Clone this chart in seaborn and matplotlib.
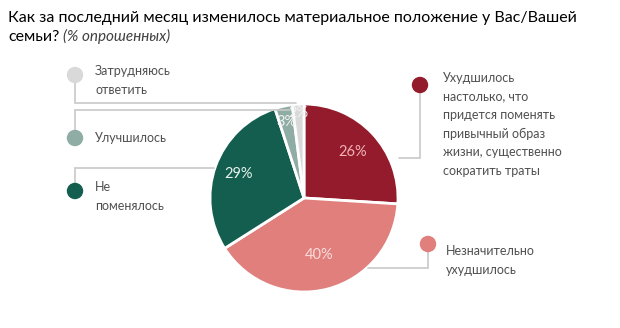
import matplotlib
matplotlib.use("Agg")
import matplotlib.pyplot as plt
import numpy as np
import seaborn as sns

sns.set_theme(style="white")
plt.rcParams["font.family"] = ["Lato", "DejaVu Sans"]

# Survey answers, clockwise from 12 o'clock
categories = [
    "Ухудшилось\nнастолько, что\nпридется поменять\nпривычный образ\nжизни, существенно\nсократить траты",
    "Незначительно\nухудшилось",
    "Не\nпоменялось",
    "Улучшилось",
    "Затрудняюсь\nответить",
]
values = [26, 40, 29, 3, 2]
pct_labels = ["26%", "40%", "29%", "3%", "2%"]

colors = ["#931b2c", "#e07f7c", "#145e50", "#8fada4", "#d9d9d9"]
pct_colors = ["#f4b3b5", "#f9dcda", "#e8f1ee", "#f2f2f2", "#f2f2f2"]
pct_dist = [0.71, 0.63, 0.74, 0.83, 0.91]

W, H = 620, 328
fig = plt.figure(figsize=(W / 100, H / 100), dpi=100)
ax = fig.add_axes([0, 0, 1, 1])


def Y(y):
    return H - y


cx, cy, R = 304, 198, 94
wedges, _ = ax.pie(
    values, colors=colors, startangle=90, counterclock=False,
    center=(cx, Y(cy)), radius=R,
    wedgeprops=dict(edgecolor="white", linewidth=2),
)
ax.set_xlim(0, W)
ax.set_ylim(0, H)
ax.set_aspect("equal")
ax.axis("off")

for w, lab, c, d in zip(wedges, pct_labels, pct_colors, pct_dist):
    ang = np.deg2rad((w.theta1 + w.theta2) / 2)
    ax.text(cx + d * R * np.cos(ang), Y(cy) + d * R * np.sin(ang), lab,
            ha="center", va="center", color=c, fontsize=10.5, zorder=5)

# Title
ax.text(8, Y(22), "Как за последний месяц изменилось материальное положение у Вас/Вашей",
        fontsize=11.5, color="#000000", va="baseline", ha="left")
ax.text(8, Y(41), "семьи?", fontsize=11.5, color="#000000", va="baseline", ha="left")
ax.text(63, Y(41), "(% опрошенных)", fontsize=11, color="#404040",
        style="italic", va="baseline", ha="left")

line_c = "#c8c8c8"
lw = 1.2

# Legend markers, leader lines and captions
# (dot x, dot y, elbow y, line end x, text x, text y)
legend_layout = [
    (420, 85, 158, 399, 443, 72),
    (428, 244, 268, 368, 446, 245),
    (75, 191, 168, 214, 95, 181),
    (75, 138, 110, 290, 95, 138),
    (75, 75, 103, 296, 95, 65),
]
for (dx, dy, ey, ex, tx, ty), lab, c in zip(legend_layout, categories, colors):
    ax.plot([dx, dx, ex], [Y(dy), Y(ey), Y(ey)], color=line_c, lw=lw, zorder=1,
            solid_joinstyle="miter")
    ax.add_patch(plt.Circle((dx, Y(dy)), 7.5, color=c, zorder=3))
    n = lab.count("\n") + 1
    ax.text(tx, Y(ty), lab, fontsize=9, color="#505050",
            va="top" if n > 1 else "center", ha="left", linespacing=1.65)

fig.savefig("out.png", dpi=100, facecolor="white")
